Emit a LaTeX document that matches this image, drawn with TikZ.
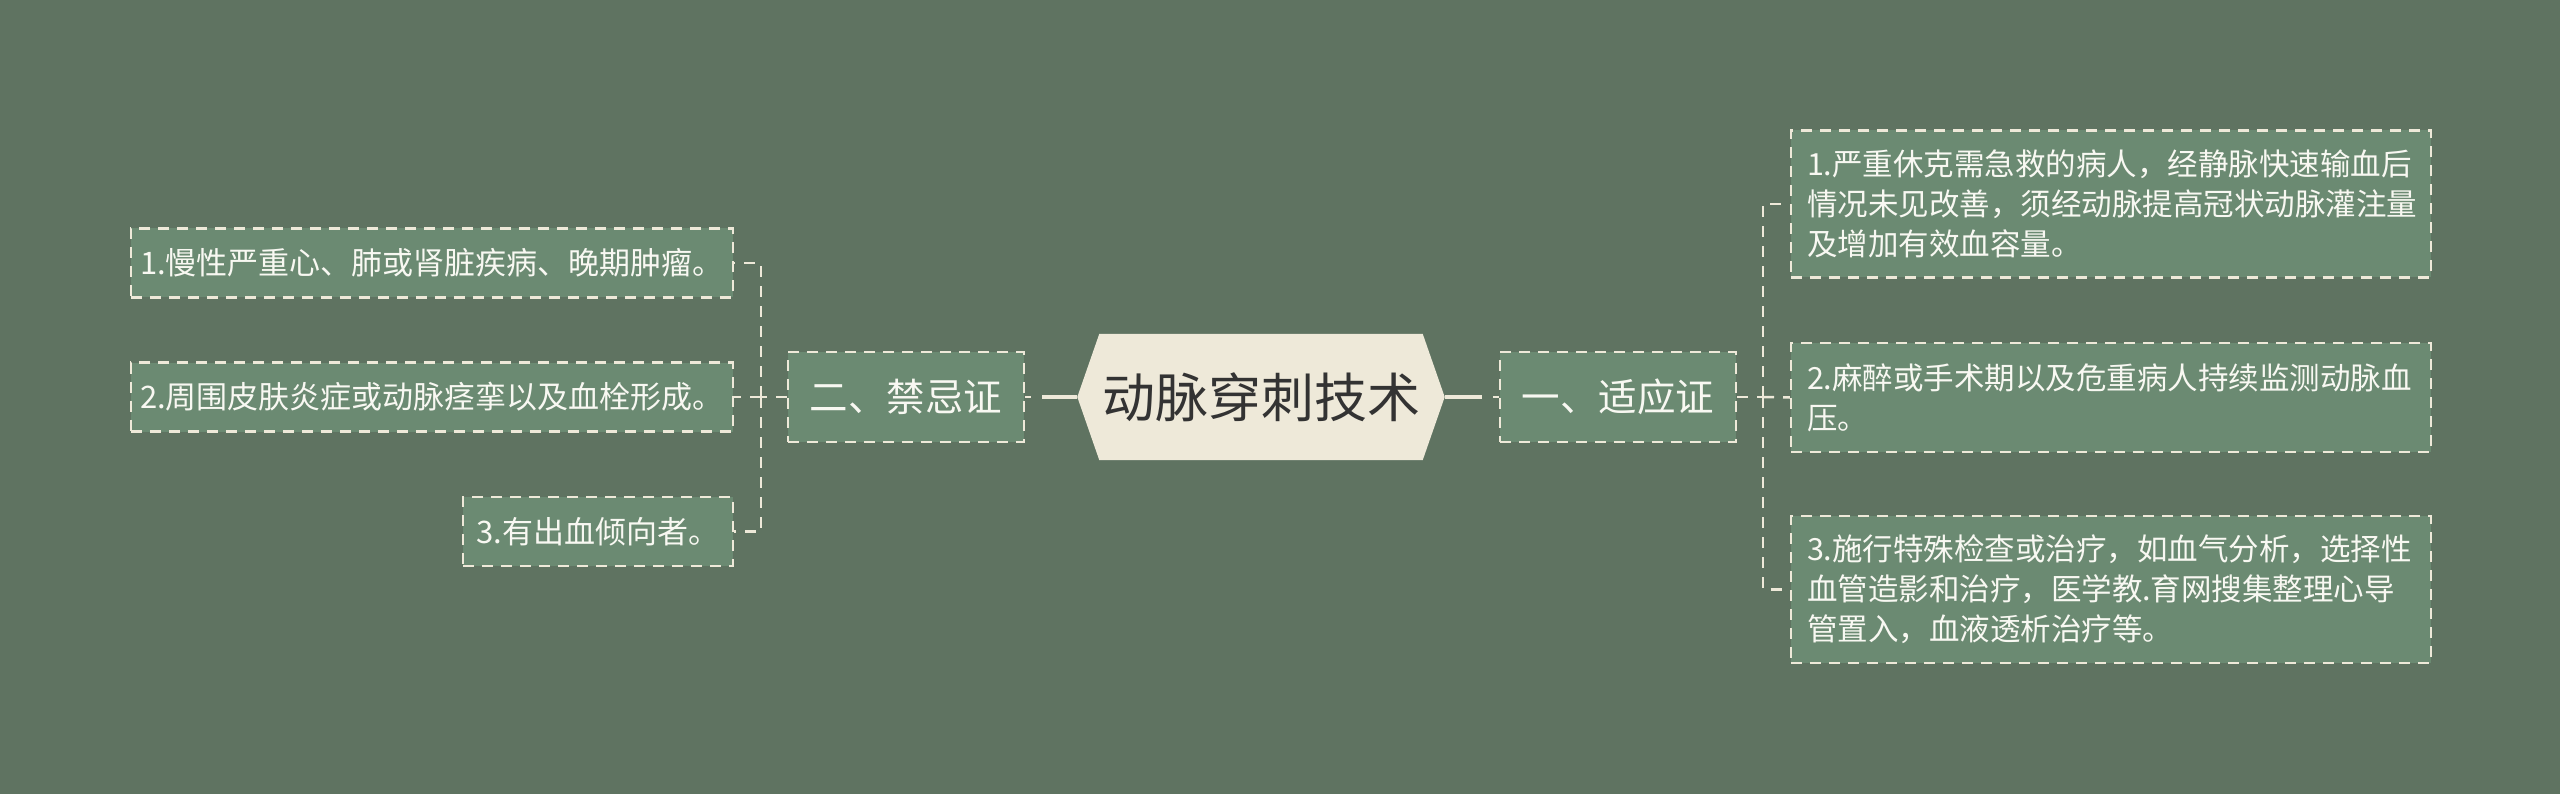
\documentclass[tikz,border=0pt]{standalone}
\usepackage{fontspec}
\setmainfont{Noto Sans CJK SC}
\definecolor{bgc}{HTML}{5F7361}
\definecolor{boxfill}{HTML}{6B8A72}
\definecolor{cream}{HTML}{EEE9D9}
\definecolor{darktext}{HTML}{333333}
\definecolor{lighttext}{HTML}{F8F8F2}
\pgfdeclarelayer{bglayer}
\pgfsetlayers{bglayer,main}
\begin{document}
\begin{tikzpicture}[x=1pt,y=-1pt,
  centre/.style={rectangle,minimum width=367pt,minimum height=126pt,inner sep=0pt,text=darktext,font=\fontsize{53}{62}\selectfont},
  boxline/.style={draw=cream,line width=2.5pt,dash pattern=on 11pt off 8pt},
  branch/.style={rectangle,boxline,fill=boxfill,minimum width=236pt,minimum height=90pt,inner sep=0pt,text=lighttext,font=\fontsize{38.5}{46}\selectfont},
  leaf/.style={rectangle,boxline,fill=boxfill,minimum height=69pt,inner sep=0pt,text=lighttext,font=\fontsize{31}{40}\selectfont},
  rleaf/.style={rectangle,boxline,fill=boxfill,inner xsep=16pt,inner ysep=0pt,text width=608pt,align=left,text=lighttext,font=\fontsize{30.5}{40}\selectfont},
  solidconn/.style={draw=cream,line width=4pt},
  dashconn/.style={draw=cream,line width=2.5pt,dash pattern=on 11pt off 9pt},
  stubconn/.style={draw=cream,line width=2.5pt,dash pattern=on 6pt off 20pt}
]
\begin{pgfonlayer}{bglayer}
\fill[bgc] (0,0) rectangle (2560,794);
\end{pgfonlayer}
\useasboundingbox (0,0) rectangle (2560,794);

% centre
\node[centre] (c) at (1261,397) {动脉穿刺技术};
\begin{pgfonlayer}{bglayer}
\fill[cream] (c.west) -- ([xshift=22pt]c.north west) -- ([xshift=-22pt]c.north east) -- (c.east) -- ([xshift=-22pt]c.south east) -- ([xshift=22pt]c.south west) -- cycle;
\end{pgfonlayer}

% branches
\node[branch] (b2) at (906,397) {二、禁忌证};
\node[branch] (b1) at (1618,397) {一、适应证};

% left leaves
\node[leaf,minimum width=602pt] (l1) at (432,263) {1.慢性严重心、肺或肾脏疾病、晚期肿瘤。};
\node[leaf,minimum width=602pt] (l2) at (432,397) {2.周围皮肤炎症或动脉痉挛以及血栓形成。};
\node[leaf,minimum width=270pt] (l3) at (598,531.5) {3.有出血倾向者。};

% right leaves
\node[rleaf,minimum height=147pt] (r1) at (2111,204) {1.严重休克需急救的病人，经静脉快速输血后\\情况未见改善，须经动脉提高冠状动脉灌注量\\及增加有效血容量。};
\node[rleaf,minimum height=109pt] (r2) at (2111,397.5) {2.麻醉或手术期以及危重病人持续监测动脉血\\压。};
\node[rleaf,minimum height=147pt] (r3) at (2111,589.5) {3.施行特殊检查或治疗，如血气分析，选择性\\血管造影和治疗，医学教.育网搜集整理心导\\管置入，血液透析治疗等。};

% centre connectors
\draw[solidconn] (c.west) -- ([xshift=17pt]b2.east);
\draw[stubconn] (b2.east) -- ([xshift=17pt]b2.east);
\draw[solidconn] (c.east) -- ([xshift=-17pt]b1.west);
\draw[stubconn] (b1.west) -- ([xshift=-17pt]b1.west);

% left tree
\coordinate (lj) at (761,397);
\draw[dashconn] (b2.west) -- (lj);
\draw[dashconn] (lj) |- (l1.east);
\draw[dashconn] (lj) |- (l3.east);
\draw[dashconn] (lj) -- (l2.east);

% right tree
\coordinate (rj) at (1763,397);
\draw[dashconn] (b1.east) -- (rj);
\draw[dashconn] (rj) |- (r1.west);
\draw[dashconn] (rj) |- (r3.west);
\draw[dashconn] (rj) -- (r2.west);
\end{tikzpicture}
\end{document}
